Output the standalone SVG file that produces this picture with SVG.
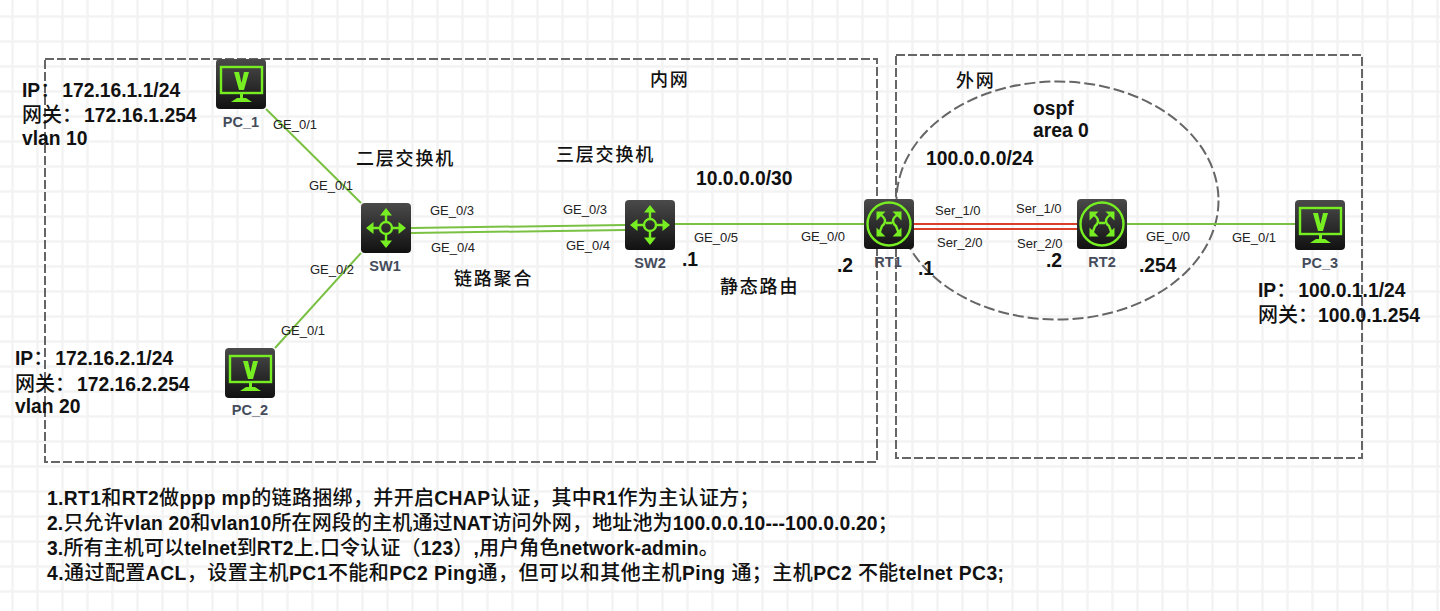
<svg xmlns="http://www.w3.org/2000/svg" width="1440" height="611" viewBox="0 0 1440 611">
<style>
.t{font-family:"Liberation Sans","Noto Sans CJK SC",sans-serif;font-weight:700;font-size:19.3px;fill:#111}
.c{font-family:"Noto Sans CJK SC",sans-serif;font-weight:500;font-size:20px}
.z{font-family:"Noto Sans CJK SC",sans-serif;font-weight:500;font-size:18px;fill:#111;letter-spacing:1.8px}
.p{font-family:"Liberation Sans",sans-serif;font-size:13px;fill:#222}
.n{font-family:"Liberation Sans",sans-serif;font-weight:700;font-size:14.5px;fill:#444c5c;text-anchor:middle}
.g{stroke:#7ac143;stroke-width:2;fill:none}
.r{stroke:#d9402a;stroke-width:2.2;fill:none}
.d{stroke:#666;stroke-width:2;stroke-dasharray:9 3;fill:none}
.e{stroke:#666;stroke-width:2;stroke-dasharray:11 4;fill:none}
.i{fill:none;stroke:#77ee22;stroke-width:2.4}
.f{fill:#77ee22}
</style>
<defs>
<pattern id="grid" width="25" height="25" patternUnits="userSpaceOnUse" x="0" y="4">
<path d="M12.5 0V25M0 12.5H25" stroke="#f3f3f3" stroke-width="2.4" fill="none"/>
</pattern>
<linearGradient id="bg" x1="0" y1="0" x2="0" y2="1"><stop offset="0" stop-color="#4a4a4a"/><stop offset="1" stop-color="#111"/></linearGradient>
<symbol id="pc" viewBox="0 0 50 50" width="50" height="50">
<rect width="50" height="50" rx="4" fill="url(#bg)"/>
<rect x="5" y="8" width="41" height="26" fill="none" stroke="#77ee22" stroke-width="2.4"/>
<path class="f" d="M18 13h5l2.500 11 2.500-11h5l-5 18h-5zM24 35h3v4h3l6 4H15l6-4h3z"/>
</symbol>
<symbol id="sw" viewBox="0 0 50 50" width="50" height="50">
<rect width="50" height="50" rx="4" fill="url(#bg)"/>
<circle cx="25" cy="25" r="6" class="i" stroke-width="3"/>
<path class="i" stroke-width="3" d="M25 9V19M25 31V41M9 25H19M31 25H41"/>
<path class="f" d="M25 5l6 7.500H19zM25 45l6-7.500H19zM5 25l7.500-6v12zM45 25l-7.500-6v12z"/>
</symbol>
<symbol id="rt" viewBox="0 0 50 50" width="50" height="50">
<rect width="50" height="50" rx="4" fill="url(#bg)"/>
<circle cx="25" cy="25" r="21.5" class="i"/>
<path class="i" stroke-width="3" d="M15 15Q21 18 21 22Q21 25 18 27L15 35M35 15Q29 18 29 22Q29 25 32 27L35 35M22 24H28"/>
<path class="f" d="M12.500 12.500h9l-9 9zM37.500 12.500v9l-9-9zM12.500 37.500v-9l9 9zM37.500 37.500h-9l9-9z"/>
</symbol>
</defs>
<rect id="canvas" width="1440" height="611" fill="#fff"/>
<rect id="gridlines" width="1440" height="611" fill="url(#grid)"/>

<g id="zones">
<rect class="d" x="45" y="59" width="832" height="403"/>
<rect class="d" x="896" y="55" width="466" height="403"/>
<ellipse class="e" cx="1057.500" cy="200.500" rx="161" ry="119"/>
</g>

<g id="connectors">
<path class="g" d="M266 109L361 203"/>
<path class="g" d="M361 253L275 348"/>
<path class="g" d="M411 228L625 225M411 233L625 230"/>
<path class="g" d="M675 224H864"/>
<path class="r" d="M914 224H1077M914 229H1077"/>
<path class="g" d="M1127 224H1295"/>
</g>

<g id="port-labels">
<text class="p" x="273" y="129">GE_0/1</text>
<text class="p" x="309" y="190">GE_0/1</text>
<text class="p" x="310" y="274">GE_0/2</text>
<text class="p" x="281" y="335">GE_0/1</text>
<text class="p" x="430" y="215">GE_0/3</text>
<text class="p" x="431" y="252">GE_0/4</text>
<text class="p" x="563" y="214">GE_0/3</text>
<text class="p" x="566" y="250">GE_0/4</text>
<text class="p" x="694" y="242">GE_0/5</text>
<text class="p" x="801" y="241">GE_0/0</text>
<text class="p" x="935" y="215">Ser_1/0</text>
<text class="p" x="937" y="247">Ser_2/0</text>
<text class="p" x="1016" y="213">Ser_1/0</text>
<text class="p" x="1017" y="248">Ser_2/0</text>
<text class="p" x="1146" y="241">GE_0/0</text>
<text class="p" x="1232" y="242">GE_0/1</text>
</g>

<g id="PC_1"><use href="#pc" x="216" y="59"/><text class="n" x="241" y="127">PC_1</text></g>
<g id="PC_2"><use href="#pc" x="225" y="348"/><text class="n" x="250" y="415">PC_2</text></g>
<g id="SW1"><use href="#sw" x="361" y="203"/><text class="n" x="385" y="271">SW1</text></g>
<g id="SW2"><use href="#sw" x="625" y="200"/><text class="n" x="650" y="268">SW2</text></g>
<g id="RT1"><use href="#rt" x="864" y="199"/><text class="n" x="888" y="267">RT1</text></g>
<g id="RT2"><use href="#rt" x="1077" y="199"/><text class="n" x="1102" y="267">RT2</text></g>
<g id="PC_3"><use href="#pc" x="1295" y="200"/><text class="n" x="1320" y="268">PC_3</text></g>

<g id="annotations">
<text class="t" x="22" y="97">IP<tspan class="c">：</tspan><tspan dx="2">172.16.1.1/24</tspan></text>
<text class="t" x="22" y="122"><tspan class="c">网关：</tspan><tspan dx="2">172.16.1.254</tspan></text>
<text class="t" x="22" y="145">vlan 10</text>
<text class="t" x="15" y="365">IP<tspan class="c">：</tspan><tspan dx="2">172.16.2.1/24</tspan></text>
<text class="t" x="15" y="391"><tspan class="c">网关：</tspan><tspan dx="2">172.16.2.254</tspan></text>
<text class="t" x="15" y="413">vlan 20</text>
<text class="t" x="1258" y="297">IP<tspan class="c">：</tspan><tspan dx="2">100.0.1.1/24</tspan></text>
<text class="t" x="1258" y="322"><tspan class="c">网关：</tspan>100.0.1.254</text>
<text class="t" x="1033" y="115">ospf</text>
<text class="t" x="1033" y="137">area 0</text>
<text class="t" x="926" y="165">100.0.0.0/24</text>
<text class="t" x="696" y="185">10.0.0.0/30</text>
<text class="t" x="682" y="266">.1</text>
<text class="t" x="837" y="272">.2</text>
<text class="t" x="918" y="275">.1</text>
<text class="t" x="1046" y="267">.2</text>
<text class="t" x="1139" y="272">.254</text>
<text class="z" x="356" y="165">二层交换机</text>
<text class="z" x="556" y="161">三层交换机</text>
<text class="z" x="650" y="86">内网</text>
<text class="z" x="956" y="87">外网</text>
<text class="z" x="454" y="285">链路聚合</text>
<text class="z" x="720" y="293">静态路由</text>
<text class="t" style="letter-spacing:.35px" x="47" y="505">1.RT1<tspan class="c">和</tspan>RT2<tspan class="c">做</tspan>ppp mp<tspan class="c">的链路捆绑，并开启</tspan>CHAP<tspan class="c">认证，其中</tspan>R1<tspan class="c">作为主认证方；</tspan></text>
<text class="t" style="letter-spacing:.15px" x="47" y="530">2.<tspan class="c">只允许</tspan>vlan 20<tspan class="c">和</tspan>vlan10<tspan class="c">所在网段的主机通过</tspan>NAT<tspan class="c">访问外网，地址池为</tspan>100.0.0.10---100.0.0.20<tspan class="c">；</tspan></text>
<text class="t" style="letter-spacing:.15px" x="47" y="555">3.<tspan class="c">所有主机可以</tspan>telnet<tspan class="c">到</tspan>RT2<tspan class="c">上.口令认证（</tspan>123<tspan class="c">）</tspan>,<tspan class="c">用户角色</tspan>network-admin<tspan class="c">。</tspan></text>
<text class="t" style="letter-spacing:.45px" x="47" y="580">4.<tspan class="c">通过配置</tspan>ACL<tspan class="c">，设置主机</tspan>PC1<tspan class="c">不能和</tspan>PC2 Ping<tspan class="c">通，但可以和其他主机</tspan>Ping <tspan class="c">通；主机</tspan>PC2 <tspan class="c">不能</tspan>telnet PC3;</text>
</g>
</svg>
